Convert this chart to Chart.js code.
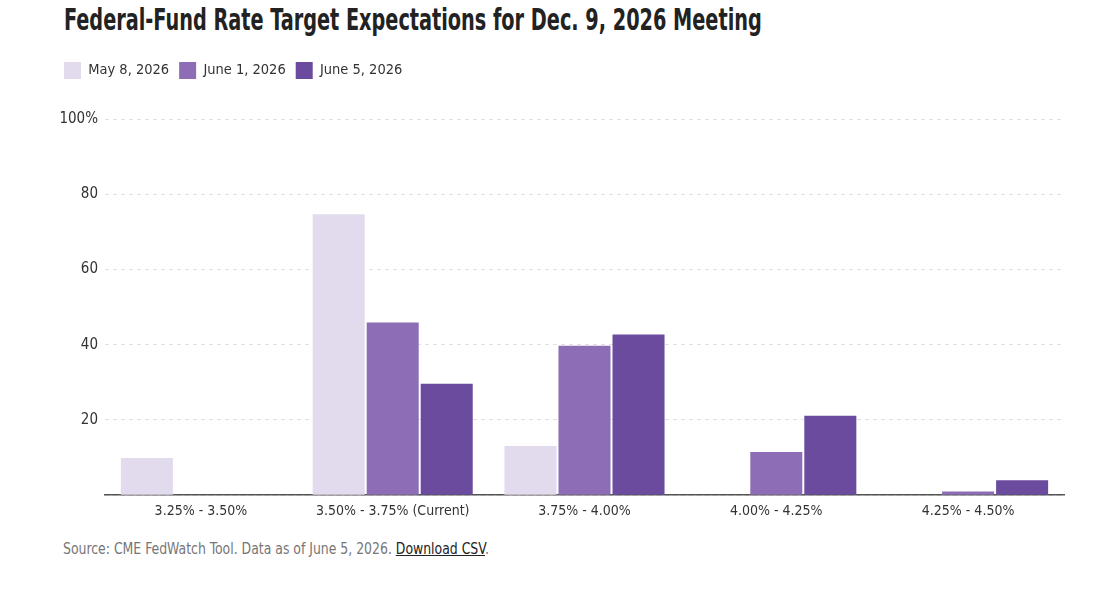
<!DOCTYPE html>
<html>
<head>
<meta charset="utf-8">
<script src="https://cdn.jsdelivr.net/npm/chart.js@4"></script>
<style>
  html, body { margin: 0; padding: 0; background: #fff; }
  body { width: 1101px; height: 591px; position: relative; overflow: hidden;
         font-family: "DejaVu Sans Condensed", "Liberation Sans", sans-serif; }
  #title { position: absolute; left: 64px; top: 1px; font-size: 31px; font-weight: bold;
           color: #222; white-space: nowrap; transform: scaleX(0.691); transform-origin: 0 0; }
  #wrap { position: absolute; left: 0; top: 52px; width: 1101px; height: 476px; }
  #footer { position: absolute; left: 63px; top: 539px; font-size: 16px; color: #767676; white-space: nowrap;
            transform: scaleX(0.865); transform-origin: 0 0; }
  #footer a { color: #222; text-decoration: underline; }
</style>
</head>
<body>
<div id="title">Federal-Fund Rate Target Expectations for Dec. 9, 2026 Meeting</div>
<div id="wrap"><canvas id="c"></canvas></div>
<div id="footer">Source: CME FedWatch Tool. Data as of June 5, 2026. <a>Download CSV</a>.</div>
<script>
const categories = ["3.25% - 3.50%", "3.50% - 3.75% (Current)", "3.75% - 4.00%", "4.00% - 4.25%", "4.25% - 4.50%"];
const seriesNames = ["May 8, 2026", "June 1, 2026", "June 5, 2026"];
const may8 = [9.9, 74.7, 13.1, 0, 0];
const june1 = [0, 45.9, 39.7, 11.5, 1.0];
const june5 = [0, 29.6, 42.7, 21.1, 4.0];
const yTicks = [0, 20, 40, 60, 80, 100];
const colors = ["#e1dbed", "#8d6db5", "#6a4b9e"];

const FONT = '"DejaVu Sans Condensed", "Liberation Sans", sans-serif';

new Chart(document.getElementById('c'), {
  type: 'bar',
  data: {
    labels: categories,
    datasets: [may8, june1, june5].map((d, i) => ({
      label: seriesNames[i],
      data: d,
      backgroundColor: colors[i],
      borderWidth: 0,
      categoryPercentage: 0.845,
      barPercentage: 0.963
    }))
  },
  options: {
    responsive: true,
    maintainAspectRatio: false,
    animation: false,
    layout: { padding: { left: 54, right: 37, top: 0, bottom: 0 } },
    plugins: {
      legend: {
        position: 'top',
        align: 'start',
        labels: {
          boxWidth: 17, boxHeight: 17, padding: 10,
          color: '#333',
          font: { family: FONT, size: 14.5 }
        }
      },
      tooltip: { enabled: false }
    },
    scales: {
      x: {
        grid: { display: false, drawTicks: false },
        border: { display: true, color: '#555', width: 1.5 },
        ticks: { color: '#333', font: { family: FONT, size: 14 }, padding: 8 }
      },
      y: {
        min: 0, max: 100,
        afterBuildTicks: (ax) => { ax.ticks = yTicks.map(v => ({ value: v })); },
        afterFit: (ax) => { ax.width = 51; },
        grid: { color: '#e2e2e2', drawTicks: false, lineWidth: 1 },
        border: { display: false, dash: [4, 4] },
        ticks: {
          color: '#333', font: { family: FONT, size: 15 }, padding: 7,
          callback: (v) => v === 0 ? '' : (v === 100 ? '100%' : String(v))
        }
      }
    }
  },
  plugins: [{
    id: 'legendGap',
    beforeInit(chart) {
      const orig = chart.legend.fit;
      chart.legend.fit = function () { orig.bind(chart.legend)(); this.height += 30; };
    }
  }]
});
</script>
</body>
</html>
